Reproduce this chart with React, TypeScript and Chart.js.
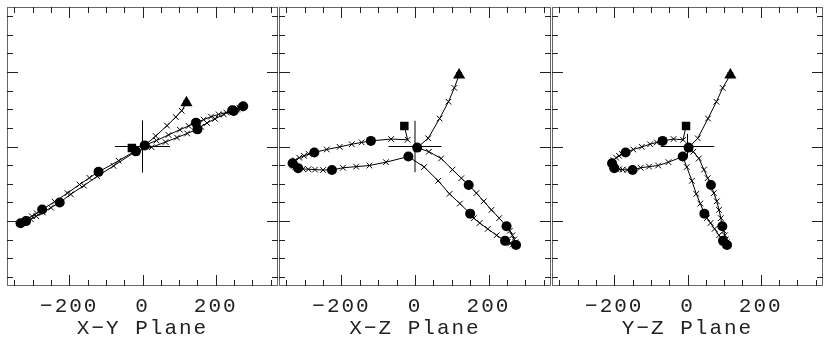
import React, { useEffect, useRef } from 'react';
import { Chart, registerables } from 'chart.js';

Chart.register(...registerables);

// Orbit sampled in 3D (x, y, z), read from the three projections
const pathX = [120, 107, 91, 67, 36, 6, 38, 71, 102, 126, 146, 167, 187, 208, 229, 249, 258, 265, 270, 273, 275, 272, 266, 259, 252, 245, 222, 198, 176, 160, 150, 122, 94, 63, 25, -18, -79, -124, -160, -196, -226, -250, -272, -290, -305, -318, -326, -330, -333, -334, -333, -326, -315, -302, -289, -274, -240, -205, -172, -145, -120, -65, -20, -29];
const pathY = [117, 96, 79, 56, 28, 3, 16, 31, 45, 55, 64, 72, 80, 86, 91, 95, 99, 102, 105, 107, 108, 107, 104, 102, 99, 97, 86, 74, 63, 53, 46, 35, 24, 12, -2, -13, -52, -80, -105, -128, -150, -164, -177, -187, -195, -200, -203, -205, -206, -206, -206, -202, -195, -187, -179, -169, -148, -125, -102, -84, -68, -38, -12, -4];
const pathZ = [192, 157, 120, 75, 22, -3, -14, -32, -62, -85, -103, -125, -147, -170, -192, -214, -226, -238, -249, -257, -264, -265, -263, -260, -257, -253, -238, -221, -205, -192, -180, -153, -127, -92, -55, -27, -42, -51, -54, -57, -63, -63, -62, -61, -60, -58, -55, -52, -49, -47, -45, -37, -30, -25, -20, -16, -8, -1, 6, 11, 15, 20, 18, 55];
const dotIndex = [5, 10, 15, 20, 25, 30, 35, 40, 45, 50, 55, 60];
const triangleIndex = [0];
const squareIndex = [63];

// Origin cross per panel (extent in data units): horizontal, vertical
const crossH = [[-75, 75], [-72, 72], [-73, 73]];
const crossV = [[-70, 70], [-69, 69], [-30, 34]];

// Axes
const xRange = [-370, 370];
const yRange = [-374, 374];
const labelTicks = [-200, 0, 200];
const majorTicks = [-200, 0, 200];
const minorTicks = [-350, -300, -250, -150, -100, -50, 50, 100, 150, 250, 300, 350];

const planeTitles = ['X\u2212Y Plane', 'X\u2212Z Plane', 'Y\u2212Z Plane'];
const planeAxes = [
  [pathX, pathY],
  [pathX, pathZ],
  [pathY, pathZ],
];

const W = 830;
const H = 341;
const panelLayout = [
  { left: 7, right: 278 },
  { left: 279, right: 551 },
  { left: 552, right: 826 },
];

const FONT = { family: '"Liberation Mono", "DejaVu Sans Mono", monospace', size: 21 };

const fmt = (v: number) => (v < 0 ? '\u2212' + Math.abs(v) : String(v));

const framePlugin = {
  id: 'frameTicks',
  beforeDraw(chart: any) {
    (chart.ctx as any).letterSpacing = '2px';
  },
  afterDraw(chart: any) {
    const ctx = chart.ctx as CanvasRenderingContext2D;
    const a = chart.chartArea;
    const xs = chart.scales.x;
    const ys = chart.scales.y;
    ctx.save();
    ctx.strokeStyle = '#666';
    ctx.lineWidth = 1;
    ctx.strokeRect(a.left + 0.5, a.top + 0.5, a.right - a.left - 1, a.bottom - a.top - 1);
    ctx.strokeStyle = '#222';
    const drawX = (v: number, len: number) => {
      const p = Math.round(xs.getPixelForValue(v)) + 0.5;
      ctx.beginPath();
      ctx.moveTo(p, a.bottom);
      ctx.lineTo(p, a.bottom - len);
      ctx.moveTo(p, a.top);
      ctx.lineTo(p, a.top + len);
      ctx.stroke();
    };
    const drawY = (v: number, len: number) => {
      const p = Math.round(ys.getPixelForValue(v)) + 0.5;
      ctx.beginPath();
      ctx.moveTo(a.left, p);
      ctx.lineTo(a.left + len, p);
      ctx.moveTo(a.right, p);
      ctx.lineTo(a.right - len, p);
      ctx.stroke();
    };
    majorTicks.forEach((v) => { drawX(v, 11); drawY(v, 11); });
    minorTicks.forEach((v) => { drawX(v, 6); drawY(v, 6); });
    ctx.restore();
  },
};

function Panel({ idx }: { idx: number }) {
  const ref = useRef<HTMLCanvasElement>(null);
  useEffect(() => {
    const [hv, vv] = planeAxes[idx];
    const pts = hv.map((h, i) => ({ x: h, y: vv[i] }));
    const pick = (list: number[]) => list.map((i) => pts[i]);
    const lay = panelLayout[idx];
    const chart = new Chart(ref.current as HTMLCanvasElement, {
      type: 'scatter',
      data: {
        datasets: [
          {
            data: crossH[idx].map((v) => ({ x: v, y: 0 })),
            showLine: true, borderColor: '#000', borderWidth: 1, pointRadius: 0,
          },
          {
            data: crossV[idx].map((v) => ({ x: 0, y: v })),
            showLine: true, borderColor: '#000', borderWidth: 1, pointRadius: 0,
          },
          {
            data: pts,
            showLine: true, borderColor: '#000', borderWidth: 1,
            pointStyle: 'crossRot', pointRadius: 4, pointBorderWidth: 1,
            pointBorderColor: '#000', pointBackgroundColor: '#000',
          },
          {
            data: pick(dotIndex),
            showLine: false, pointStyle: 'circle', pointRadius: 5,
            pointBackgroundColor: '#000', pointBorderColor: '#000', pointBorderWidth: 0,
          },
          {
            data: pick(triangleIndex),
            showLine: false, pointStyle: 'triangle', pointRadius: 7,
            pointBackgroundColor: '#000', pointBorderColor: '#000', pointBorderWidth: 0,
          },
          {
            data: pick(squareIndex),
            showLine: false, pointStyle: 'rect', pointRadius: 6,
            pointBackgroundColor: '#000', pointBorderColor: '#000', pointBorderWidth: 0,
          },
        ],
      },
      options: {
        responsive: false,
        animation: false,
        devicePixelRatio: 1,
        events: [],
        layout: { padding: { left: lay.left, right: W - lay.right, top: 5, bottom: 0 } },
        plugins: { legend: { display: false }, tooltip: { enabled: false } },
        scales: {
          x: {
            type: 'linear', min: xRange[0], max: xRange[1],
            grid: { display: false }, border: { display: false },
            afterBuildTicks: (s: any) => { s.ticks = labelTicks.map((v) => ({ value: v })); },
            afterFit: (s: any) => { s.height = H - 286; },
            ticks: {
              padding: 0, color: '#222', font: FONT, maxRotation: 0, autoSkip: false,
              callback: (v: any) => fmt(Number(v)),
            },
            title: {
              display: true, text: planeTitles[idx], color: '#222', font: FONT,
              padding: { top: 0, bottom: 0 },
            },
          },
          y: { type: 'linear', min: yRange[0], max: yRange[1], display: false },
        },
      },
      plugins: [framePlugin],
    } as any);
    return () => chart.destroy();
  }, [idx]);
  return (
    <canvas
      ref={ref}
      width={W}
      height={H}
      style={{ position: 'absolute', left: 0, top: 0, width: W, height: H }}
    />
  );
}

export default function App() {
  return (
    <div style={{ position: 'absolute', left: 0, top: 0, width: W, height: H, background: '#fff' }}>
      {[0, 1, 2].map((i) => (
        <Panel key={i} idx={i} />
      ))}
    </div>
  );
}
